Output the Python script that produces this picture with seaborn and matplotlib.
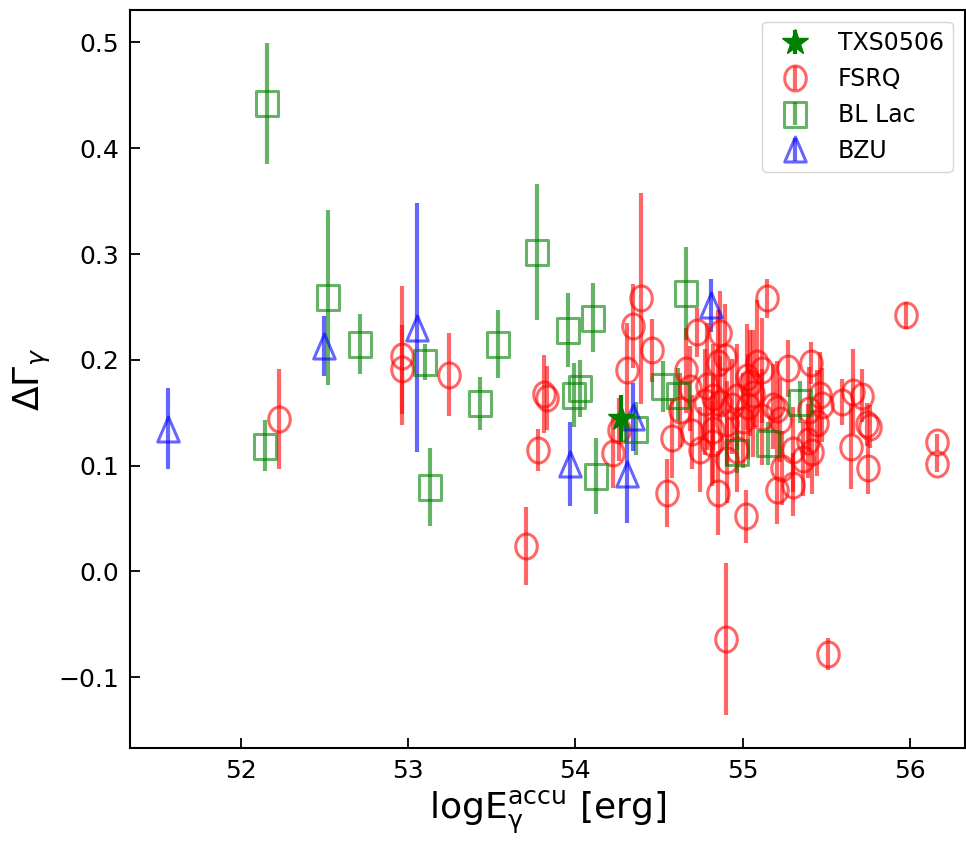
import matplotlib
matplotlib.use("Agg")
import matplotlib.pyplot as plt
from matplotlib.path import Path
import seaborn as sns

# ---- data ----
fsrq_x = [52.225, 52.963, 52.963, 53.246, 53.706, 53.776, 53.815, 53.830, 54.226, 54.262,
          54.307, 54.347, 54.390, 54.456, 54.550, 54.576, 54.625, 54.660, 54.685, 54.696,
          54.725, 54.745, 54.775, 54.785, 54.815, 54.825, 54.825, 54.850, 54.855, 54.865,
          54.865, 54.895, 54.900, 54.905, 54.905, 54.935, 54.965, 54.965, 55.004, 55.018,
          55.024, 55.034, 55.044, 55.064, 55.084, 55.114, 55.114, 55.144, 55.184, 55.204,
          55.204, 55.224, 55.234, 55.274, 55.304, 55.304, 55.363, 55.393, 55.399, 55.407,
          55.413, 55.443, 55.463, 55.473, 55.509, 55.593, 55.646, 55.662, 55.712, 55.742,
          55.760, 55.752, 55.975, 56.160, 56.160]
fsrq_y = [0.144, 0.204, 0.191, 0.186, 0.024, 0.115, 0.168, 0.164, 0.112, 0.134,
          0.190, 0.232, 0.258, 0.209, 0.074, 0.126, 0.153, 0.190, 0.173, 0.132,
          0.226, 0.115, 0.160, 0.175, 0.121, 0.165, 0.134, 0.197, 0.074, 0.225,
          0.159, 0.203, -0.064, 0.140, 0.105, 0.156, 0.165, 0.115, 0.143, 0.052,
          0.184, 0.156, 0.178, 0.168, 0.197, 0.190, 0.146, 0.258, 0.156, 0.154,
          0.077, 0.143, 0.098, 0.192, 0.115, 0.082, 0.106, 0.123, 0.153, 0.197,
          0.113, 0.140, 0.167, 0.157, -0.078, 0.160, 0.118, 0.170, 0.166, 0.139,
          0.137, 0.098, 0.242, 0.122, 0.102]
fsrq_err = [0.047, 0.066, 0.042, 0.039, 0.037, 0.020, 0.037, 0.030, 0.033, 0.030,
            0.045, 0.040, 0.100, 0.030, 0.032, 0.038, 0.035, 0.040, 0.040, 0.035,
            0.023, 0.040, 0.050, 0.060, 0.040, 0.050, 0.050, 0.050, 0.040, 0.040,
            0.045, 0.050, 0.072, 0.040, 0.040, 0.045, 0.050, 0.040, 0.045, 0.025,
            0.050, 0.050, 0.050, 0.060, 0.060, 0.050, 0.045, 0.018, 0.040, 0.045,
            0.032, 0.040, 0.035, 0.027, 0.040, 0.030, 0.035, 0.035, 0.040, 0.020,
            0.040, 0.050, 0.040, 0.035, 0.015, 0.022, 0.040, 0.040, 0.025, 0.020,
            0.020, 0.025, 0.013, 0.008, 0.008]

bll_x = [52.154, 52.144, 52.518, 52.714, 53.100, 53.130, 53.430, 53.539, 53.768, 53.958,
         53.993, 54.030, 54.107, 54.123, 54.362, 54.524, 54.615, 54.660, 54.965, 55.154, 55.343]
bll_y = [0.4425, 0.119, 0.259, 0.215, 0.198, 0.080, 0.159, 0.215, 0.302, 0.228,
         0.167, 0.173, 0.240, 0.090, 0.135, 0.175, 0.167, 0.263, 0.113, 0.121, 0.160]
bll_err = [0.057, 0.024, 0.083, 0.028, 0.017, 0.037, 0.025, 0.032, 0.064, 0.035,
           0.030, 0.027, 0.033, 0.036, 0.025, 0.024, 0.025, 0.044, 0.020, 0.020, 0.020]

bzu_x = [51.565, 52.497, 53.053, 53.970, 54.307, 54.345, 54.810]
bzu_y = [0.135, 0.213, 0.2305, 0.1016, 0.0924, 0.1457, 0.2514]
bzu_err = [0.038, 0.028, 0.118, 0.040, 0.047, 0.032, 0.025]

txs_x = [54.27]
txs_y = [0.1448]
txs_err = [0.022]

sns.set_style("ticks")
plt.rcParams['font.family'] = ['DejaVu Sans']
plt.rcParams.update({'text.color': 'black', 'axes.labelcolor': 'black',
                     'xtick.color': 'black', 'ytick.color': 'black',
                     'axes.edgecolor': 'black'})

fig = plt.figure(figsize=(9.66, 8.49), dpi=100)
ax = fig.add_axes([0.1346, 0.119, 0.8643, 0.8693])

# reference is a little squeezed sideways -> markers narrower than tall
c = Path.unit_circle()
ellipse = Path(c.vertices * [0.86, 1.0], c.codes)
box = Path([(-0.43, -0.5), (0.43, -0.5), (0.43, 0.5), (-0.43, 0.5), (-0.43, -0.5)], closed=True)
tri = Path([(0, 1), (0.86, -1), (-0.86, -1), (0, 1)], closed=True)

common = dict(ls='none', ms=18, mew=2.2, mfc='none', elinewidth=3, alpha=0.6)
h_fsrq = ax.errorbar(fsrq_x, fsrq_y, yerr=fsrq_err, marker=ellipse, color='r', mec='r',
                     label='FSRQ', **common)
h_bll = ax.errorbar(bll_x, bll_y, yerr=bll_err, marker=box, color='g', mec='g',
                    label='BL Lac', **common)
h_bzu = ax.errorbar(bzu_x, bzu_y, yerr=bzu_err, marker=tri, color='b', mec='b',
                    label='BZU', **common)
h_txs = ax.errorbar(txs_x, txs_y, yerr=txs_err, marker='*', ms=19, color='g',
                    elinewidth=3, ls='none', label='TXS0506', zorder=5)

ax.set_xlim(51.336, 56.33)
ax.set_ylim(-0.1668, 0.5307)
ax.set_xticks([52, 53, 54, 55, 56])
ax.set_yticks([-0.1, 0.0, 0.1, 0.2, 0.3, 0.4, 0.5])
ax.tick_params(direction='in', length=7, width=1.3, labelsize=18, pad=8)
for s in ax.spines.values():
    s.set_linewidth(1.5)

ax.set_xlabel(r'$\mathrm{logE_{\gamma}^{accu}}$ [erg]', fontsize=26)
ax.set_ylabel(r'$\Delta\Gamma_{\gamma}$', fontsize=26)

ax.legend(handles=[h_txs, h_fsrq, h_bll, h_bzu], loc='upper right', fontsize=17,
          edgecolor='0.8', framealpha=0.8)

fig.savefig('out.png', dpi=100)
